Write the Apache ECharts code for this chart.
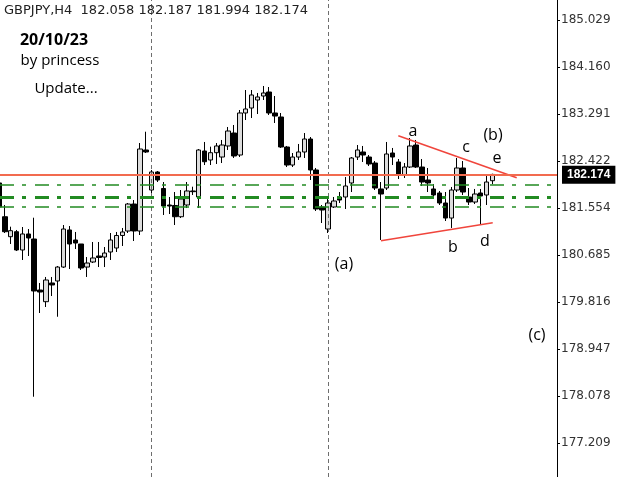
<!DOCTYPE html>
<html>
<head>
<meta charset="utf-8">
<title>GBPJPY H4</title>
<style>
  html, body { margin: 0; padding: 0; background: #fff; }
  #main { width: 625px; height: 477px; }
</style>
</head>
<body>
<div id="main"></div>
<script src="https://cdn.jsdelivr.net/npm/echarts@6.0.0/dist/echarts.min.js"></script>
<script type="text/javascript">
// bar numbers start at -1 (the cut-off bar on the left edge)
var barStart = -1;

var opens = [
  182.016, 181.392, 181.023, 181.115, 180.777, 181.073, 180.980, 180.037, 179.821, 180.167,
  180.204, 180.462, 181.147, 180.962, 180.888, 180.462, 180.555, 180.666, 180.647, 180.740,
  180.814, 181.045, 181.128, 181.627, 181.128, 182.626, 181.886, 182.219, 181.914, 181.609,
  181.600, 181.392, 181.609, 181.868, 181.757, 182.607, 182.441, 182.576, 182.496, 182.700,
  182.940, 182.533, 183.310, 183.402, 183.550, 183.624, 183.698, 183.310, 183.236, 182.681,
  182.348, 182.496, 182.589, 182.829, 182.256, 181.572, 181.165, 181.572, 181.757, 181.757,
  182.016, 182.496, 182.589, 182.496, 182.385, 181.905, 181.923, 182.570, 182.404, 182.163,
  182.311, 182.718, 182.311, 182.071, 181.905, 181.831, 181.646, 181.368, 181.886, 182.293,
  181.757, 181.664, 181.831, 181.794, 182.058
];
var closes = [
  181.572, 181.115, 181.134, 180.777, 181.073, 180.999, 180.019, 180.000, 180.222, 180.130,
  180.462, 181.165, 180.888, 180.906, 180.444, 180.536, 180.629, 180.638, 180.721, 180.962,
  181.045, 181.110, 181.627, 181.128, 182.644, 182.589, 182.219, 182.071, 181.590, 181.590,
  181.392, 181.720, 181.868, 181.855, 182.626, 182.409, 182.576, 182.700, 182.718, 182.977,
  182.515, 183.310, 183.384, 183.643, 183.606, 183.680, 183.310, 183.254, 182.681, 182.348,
  182.496, 182.589, 182.829, 182.256, 181.535, 181.516, 181.646, 181.683, 181.701, 181.960,
  182.478, 182.626, 182.533, 182.367, 181.923, 181.812, 182.552, 182.496, 182.182, 182.311,
  182.700, 182.311, 182.034, 182.016, 181.794, 181.646, 181.368, 181.886, 182.293, 181.849,
  181.664, 181.812, 181.775, 182.034, 182.174
];
var lows = [
  181.535, 181.091, 180.888, 180.758, 180.592, 180.666, 178.064, 179.612, 179.723, 179.926,
  179.543, 180.444, 180.425, 180.795, 180.407, 180.278, 180.536, 180.462, 180.462, 180.592,
  180.740, 180.851, 181.091, 180.943, 181.054, 182.570, 181.738, 182.034, 181.424, 181.442,
  181.239, 181.368, 181.553, 181.794, 181.553, 182.348, 182.348, 182.367, 182.385, 182.626,
  182.478, 182.496, 183.180, 183.217, 183.291, 183.550, 183.273, 183.125, 182.663, 182.311,
  182.311, 182.441, 182.478, 182.071, 181.498, 181.276, 181.091, 181.553, 181.646, 181.535,
  181.849, 182.441, 182.404, 182.330, 181.886, 180.962, 181.886, 182.348, 182.089, 182.108,
  182.293, 182.293, 181.960, 181.849, 181.757, 181.609, 181.313, 181.184, 181.849, 181.794,
  181.609, 181.627, 181.257, 181.609, 181.994
];
var highs = [
  182.071, 181.609, 181.208, 181.147, 181.202, 181.165, 181.374, 180.167, 180.278, 180.278,
  180.481, 181.239, 181.220, 181.110, 180.888, 180.647, 180.925, 180.925, 180.832, 181.091,
  181.110, 181.184, 181.646, 181.701, 182.755, 182.964, 182.256, 182.237, 182.034, 181.757,
  181.849, 181.886, 182.034, 181.947, 182.644, 182.774, 182.687, 182.755, 182.811, 183.051,
  183.088, 183.365, 183.735, 183.735, 183.680, 183.809, 183.790, 183.624, 183.310, 182.700,
  182.570, 182.737, 182.940, 182.866, 182.293, 181.609, 181.720, 181.757, 181.849, 182.126,
  182.496, 182.718, 182.700, 182.533, 182.422, 182.034, 182.774, 182.663, 182.459, 182.385,
  182.848, 182.811, 182.459, 182.293, 181.997, 181.868, 181.849, 181.942, 182.478, 182.422,
  181.923, 181.905, 181.905, 182.163, 182.187
];

// price scale labels on the right
var priceTicks = [177.209, 178.078, 178.947, 179.816, 180.685, 181.554, 182.422, 183.291, 184.160, 185.029];

// week separators (bar numbers)
var weekStarts = [25, 55];

// horizontal levels
var bidPrice = 182.174;
var greenLevels = [181.988, 181.756, 181.577];

// triangle lines [bar, price]
var upperLine = [[66.98, 182.890], [87.13, 182.113]];
var lowerLine = [[64.03, 180.948], [83.05, 181.281]];

var candleData = opens.map(function (o, i) {
  return [barStart + i, o, closes[i], lows[i], highs[i]];
});

var greenStyles = [
  { color: '#228b22', width: 1.5, type: [14, 8, 4, 9] },
  { color: '#228b22', width: 3, type: [14, 8, 4, 9] },
  { color: '#228b22', width: 1.5, type: [14, 8, 4, 9] }
];

var markLines = [];
weekStarts.forEach(function (b) {
  markLines.push({ xAxis: b, lineStyle: { color: '#6e6e6e', width: 1, type: [4, 3] }, label: { show: false } });
});
greenLevels.forEach(function (v, i) {
  markLines.push({ yAxis: v, lineStyle: greenStyles[i], label: { show: false } });
});
markLines.push({
  yAxis: bidPrice,
  lineStyle: { color: '#f26b4f', width: 2, type: 'solid' },
  label: {
    show: true,
    position: 'end',
    distance: 5,
    formatter: bidPrice.toFixed(3),
    color: '#fff',
    backgroundColor: '#000',
    padding: [3, 5, 3, 5],
    fontFamily: 'Liberation Sans',
    fontWeight: 'bold',
    fontSize: 12
  }
});

var textFont = '"Open Sans", sans-serif';
function txt(s, x, y, size, bold) {
  return {
    type: 'text', x: x, y: y, z: 100,
    style: {
      text: s, fill: '#000',
      font: (bold ? 'bold ' : '') + size + 'px ' + textFont,
      textAlign: 'center', textVerticalAlign: 'middle'
    }
  };
}

var myChart = echarts.init(document.getElementById('main'));
var option = {
  animation: false,
  backgroundColor: '#fff',
  grid: { left: 0, right: 68, top: 0, bottom: 0, outerBoundsMode: 'none' },
  xAxis: {
    type: 'value',
    min: -0.817,
    max: 93.99,
    show: false
  },
  yAxis: {
    type: 'value',
    position: 'right',
    min: 176.58,
    max: 185.399,
    splitLine: { show: false },
    axisLine: { show: true, onZero: false, lineStyle: { color: '#000', width: 1 } },
    axisTick: { show: true, inside: false, length: 3, customValues: priceTicks, lineStyle: { color: '#000' } },
    axisLabel: {
      customValues: priceTicks,
      margin: 4,
      color: '#333',
      fontFamily: 'DejaVu Sans',
      fontSize: 12,
      formatter: function (v) { return v.toFixed(3); }
    }
  },
  graphic: [
    {
      type: 'text', x: 4, y: 11, z: 100,
      style: {
        text: 'GBPJPY,H4  182.058 182.187 181.994 182.174',
        fill: '#222', font: '13px "DejaVu Sans"', textVerticalAlign: 'middle'
      }
    },
    txt('20/10/23', 54, 40, 16, true),
    txt('by princess', 60, 61, 15),
    txt('Update...', 66, 89, 15),
    txt('a', 413, 131, 16),
    txt('(b)', 493, 135, 16),
    txt('c', 466, 147, 16),
    txt('e', 497, 158, 16),
    txt('b', 453, 247, 16),
    txt('d', 485, 241, 16),
    txt('(a)', 344, 264, 16),
    txt('(c)', 537, 335, 16)
  ],
  series: [
    {
      type: 'candlestick',
      data: candleData,
      encode: { x: 0, y: [1, 2, 3, 4] },
      barWidth: 5,
      itemStyle: {
        color: '#dcdcdc',
        color0: '#000',
        borderColor: '#000',
        borderColor0: '#000',
        borderWidth: 1
      },
      markLine: {
        symbol: ['none', 'none'],
        silent: true,
        data: markLines
      },
      z: 3
    },
    {
      type: 'line',
      data: upperLine,
      symbol: 'none',
      lineStyle: { color: '#f0453c', width: 1.5 },
      z: 4
    },
    {
      type: 'line',
      data: lowerLine,
      symbol: 'none',
      lineStyle: { color: '#f0453c', width: 1.5 },
      z: 4
    }
  ]
};
myChart.setOption(option);
</script>
</body>
</html>
